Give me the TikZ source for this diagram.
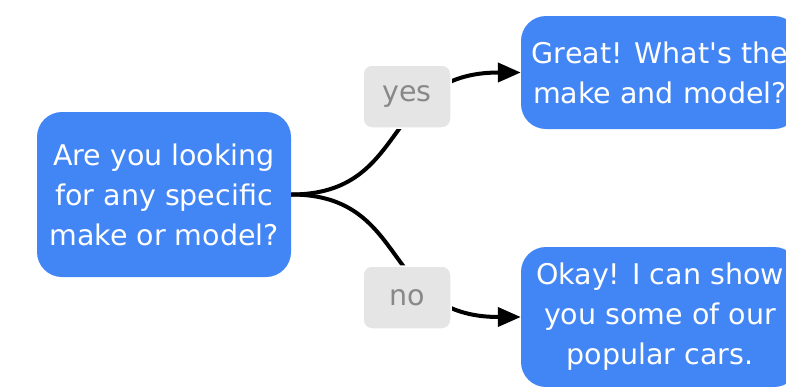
\documentclass[tikz,border=0pt]{standalone}
\usepackage{fontspec}
\newfontfamily\boxfont{DejaVu Sans}
\usetikzlibrary{arrows.meta}
\definecolor{boxblue}{RGB}{66,133,244}
\definecolor{lblgray}{RGB}{229,229,229}
\definecolor{lbltext}{RGB}{136,136,136}
\begin{document}
\begin{tikzpicture}[x=1pt,y=-1pt,
  bluebox/.style={fill=boxblue,text=white,rounded corners=25pt,align=center,
    inner sep=0pt,font=\boxfont\fontsize{28.5}{40}\selectfont},
  lblbox/.style={fill=lblgray,draw=white,line width=1.5pt,text=lbltext,rounded corners=9pt,
    minimum width=88pt,minimum height=63pt,inner sep=0pt,font=\boxfont\fontsize{28.5}{40}\selectfont},
  conn/.style={line width=4pt,draw=black},
  arr/.style={conn,-{Triangle[length=23pt,width=19pt]}}]
\useasboundingbox (0,0) rectangle (786,386);
\fill[white] (0,0) rectangle (786,386);
\node[bluebox,minimum width=254pt,minimum height=165pt] (q) at (164,194.5)
  {Are you looking\\for any specific\\make or model?};
\node[bluebox,minimum width=278pt,minimum height=113pt] (great) at (660,72.5)
  {Great! What's the\\make and model?};
\node[bluebox,minimum width=278pt,minimum height=140pt] (okay) at (660,317)
  {Okay! I can show\\you some of our\\popular cars.};
\draw[arr] (q.east) .. controls +(120,0) and +(-140,0) .. (great.west);
\draw[arr] (q.east) .. controls +(120,0) and +(-140,0) .. (okay.west);
\node[lblbox] (yes) at (407,96.5) {yes};
\node[lblbox] (no) at (407,297.5) {no};
\end{tikzpicture}
\end{document}
